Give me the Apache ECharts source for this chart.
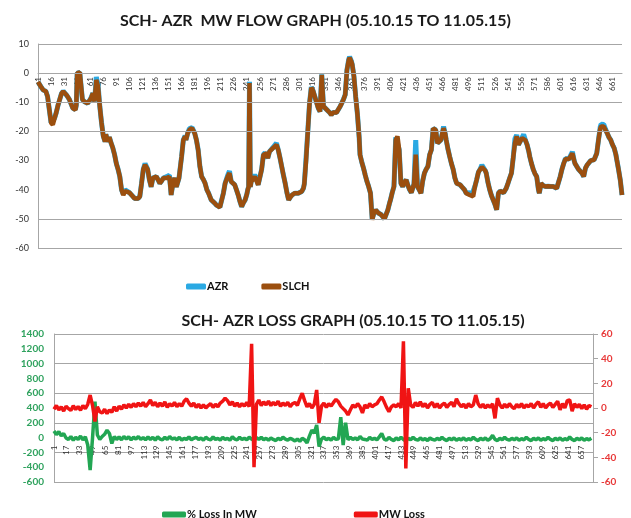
<!DOCTYPE html>
<html>
<head>
<meta charset="utf-8">
<script src="https://cdn.jsdelivr.net/npm/echarts@6/dist/echarts.min.js"></script>
<style>html,body{margin:0;padding:0;background:#fff}#c{width:631px;height:518px}</style>
</head>
<body>
<div id="c"></div>
<script>
// ---- Data ----
const categories = [];
for (let n = 1; n <= 672; n++) categories.push(String(n));

const flowTitle = 'SCH- AZR  MW FLOW GRAPH (05.10.15 TO 11.05.15)';
const lossTitle = 'SCH- AZR LOSS GRAPH (05.10.15 TO 11.05.15)';

const flowGridValues = [10, 0, -10, -20, -50, -60];

// [category index, MW]
const slch = [[0,-3],[3,-4.5],[6,-5.8],[9,-6.2],[11,-8],[13,-12.5],[15,-17],[17,-17.7],[19,-15.5],[21,-13.5],[23,-11],[25,-9],[27,-7],[29,-6.3],[31,-6.8],[33,-7.6],[36,-9],[38,-10.5],[40,-12],[43,-12.6],[44,-11],[45,0],[48,0.2],[50,0],[51,-9],[53,-9.7],[55,-10],[57,-10.3],[59,-9.5],[61,-8.6],[63,-6.9],[65,-9.7],[67,-2.3],[69,-4.6],[71,-11.4],[73,-17],[75,-21.7],[77,-23.5],[78,-21],[80,-23.5],[82,-22],[84,-24],[86,-25.7],[88,-28],[90,-31],[92,-33],[94,-35.5],[96,-40],[98,-41.8],[100,-40.5],[102,-40],[105,-41],[107,-41.5],[109,-42.3],[111,-43],[113,-43.5],[115,-43],[117,-42.3],[119,-37.8],[121,-33],[123,-31.5],[125,-31],[126,-33],[128,-36.6],[130,-39],[132,-36],[134,-36.5],[136,-35.5],[138,-36.6],[140,-37.8],[142,-37],[144,-36],[146,-36.5],[148,-36],[151,-35.5],[153,-41.8],[155,-37.8],[157,-36],[159,-39],[162,-36],[165,-28.6],[167,-22.9],[169,-21.7],[170,-22.9],[172,-20.6],[174,-19.5],[177,-18.9],[180,-20.6],[182,-22.9],[184,-26.3],[186,-32],[188,-35.5],[190,-36.5],[192,-37.8],[194,-40],[196,-41.2],[199,-43.5],[201,-44],[203,-44.6],[205,-45.3],[207,-45.8],[209,-46],[211,-45.8],[213,-41.2],[215,-37.8],[216,-38.3],[218,-35.5],[220,-34.3],[222,-37.2],[224,-37.5],[226,-38.3],[228,-40],[230,-41.8],[232,-44],[234,-45.8],[236,-44.5],[238,-43.5],[240,-41.5],[241,-40],[242,-39],[243,-3.4],[244,-39],[245,-37.2],[247,-36.5],[249,-35.5],[251,-36],[253,-38.3],[255,-38],[257,-33],[259,-28],[261,-27.5],[263,-27.5],[264,-29.2],[266,-26.9],[268,-26.5],[270,-25.7],[272,-25.5],[274,-24.6],[276,-26.3],[278,-29],[280,-32],[282,-35],[284,-37.8],[286,-41],[288,-43.5],[290,-42.5],[292,-41.8],[295,-41.2],[297,-41.5],[299,-41.2],[301,-41],[303,-40.6],[305,-39.5],[306,-38],[308,-30],[310,-20],[312,-10.3],[314,-5],[316,-6],[318,-8],[320,-10],[322,-12],[324,-13.2],[326,-0.6],[328,-11.4],[330,-12],[332,-12.6],[335,-13.5],[337,-14.3],[339,-13.5],[341,-13.2],[343,-13.5],[345,-13],[347,-11.5],[349,-10.3],[351,-9],[353,-7.4],[355,1.1],[357,4.5],[358,5.3],[360,4],[361,3],[363,-1.1],[365,-8],[367,-14],[369,-22],[370,-28],[372,-30.5],[374,-32.6],[376,-35],[378,-37.2],[380,-39],[382,-41.2],[384,-50.3],[386,-48],[388,-47],[389,-46.9],[391,-48],[392,-48],[394,-48.5],[396,-49.2],[398,-50],[400,-50.3],[402,-46.9],[404,-44.5],[405,-43.5],[407,-41],[409,-38.9],[411,-22.9],[413,-21.7],[415,-26.3],[417,-37.8],[419,-38.9],[421,-37.5],[423,-36.6],[425,-38.5],[427,-40],[429,-41],[431,-41.2],[432,-38],[434,-28],[435,-33],[436,-38.9],[438,-40],[440,-41.2],[442,-37],[444,-34.3],[446,-33],[448,-32],[450,-28],[452,-26.3],[454,-19],[455,-18.9],[457,-19.5],[459,-24],[461,-23.5],[463,-22.9],[465,-20],[466,-18.9],[468,-21],[469,-22.9],[471,-26],[473,-28.6],[475,-31],[477,-33],[479,-36],[481,-37.8],[483,-38],[485,-38.3],[487,-39],[488,-39.5],[490,-40],[492,-41.2],[494,-41.5],[496,-41.8],[498,-42],[500,-42.3],[502,-38.9],[504,-36.6],[506,-34],[508,-33],[510,-32.2],[512,-32],[514,-33.5],[515,-34.3],[517,-37.5],[519,-40],[521,-42],[523,-43.5],[525,-45],[527,-46.9],[529,-41.2],[531,-40.5],[533,-40.6],[535,-41],[536,-41.2],[538,-39.5],[540,-37.8],[542,-36],[544,-34.3],[546,-29],[548,-24],[550,-21.7],[552,-24.6],[554,-24],[556,-22.3],[558,-21.7],[560,-23],[562,-24.6],[564,-27],[565,-28.6],[567,-31],[569,-33],[571,-34.5],[573,-35.5],[575,-40],[576,-41.2],[578,-37.8],[580,-38.5],[583,-38.9],[586,-38.8],[589,-38.9],[592,-38.9],[594,-38.9],[596,-39.5],[598,-37.5],[600,-35.5],[602,-33],[604,-31],[606,-29.5],[608,-29.2],[610,-29.5],[612,-29.7],[614,-27.5],[616,-30],[617,-31],[619,-32],[621,-33],[623,-33.5],[625,-34.3],[627,-35.5],[629,-32.6],[631,-31.5],[633,-31],[635,-30],[637,-29.7],[639,-29.7],[641,-29.5],[642,-27.5],[644,-22.9],[646,-19],[647,-18.3],[650,-18.3],[652,-19.5],[654,-20.6],[656,-22],[658,-22.9],[660,-24.5],[662,-25.7],[664,-28],[665,-29.7],[667,-33],[669,-36.6],[671,-41.8]];

const azr = [[0,-3],[3,-4.5],[6,-5.8],[9,-6.2],[11,-8],[13,-12.5],[15,-17],[17,-17.5],[19,-15.5],[21,-13.5],[23,-11],[25,-9],[27,-7],[29,-6.2],[31,-6.8],[33,-7.6],[36,-9],[38,-10.5],[40,-12],[43,-12.5],[44,-11],[45,0],[48,0.2],[50,0],[51,-9],[53,-9.7],[55,-10],[57,-10.3],[59,-9.5],[61,-8.4],[63,-6.9],[65,-9.7],[67,-1.3],[69,-4],[71,-11.4],[73,-17],[75,-21.5],[77,-23.5],[78,-21],[80,-23.5],[82,-22],[84,-24],[86,-25.7],[88,-28],[90,-31],[92,-33],[94,-35.5],[96,-40],[98,-41.5],[100,-40],[102,-39.8],[105,-41],[107,-41.5],[109,-42.3],[111,-43],[113,-43.5],[115,-43],[117,-42.3],[119,-37.8],[121,-33],[123,-31],[125,-30.5],[126,-33],[128,-36.6],[130,-39],[132,-36],[134,-36.5],[136,-35.5],[138,-36.6],[140,-37.8],[142,-37],[144,-36],[146,-36.5],[148,-35.5],[151,-35],[153,-41.8],[155,-37.8],[157,-36],[159,-39],[162,-36],[165,-28.6],[167,-22.9],[169,-21.5],[170,-22.9],[172,-20.6],[174,-19],[177,-18.7],[180,-20.6],[182,-22.9],[184,-26.3],[186,-32],[188,-35.5],[190,-36.5],[192,-37.8],[194,-40],[196,-41.2],[199,-43.5],[201,-44],[203,-44.6],[205,-45.3],[207,-45.8],[209,-46],[211,-45.8],[213,-41.2],[215,-37.8],[216,-38.3],[218,-35],[220,-33.6],[222,-37.2],[224,-37.5],[226,-38.3],[228,-40],[230,-41.8],[232,-44],[234,-45.8],[236,-44.5],[238,-43.5],[240,-41.5],[241,-40],[242,-39],[243,-3],[244,-39],[245,-37],[247,-36.5],[249,-35],[251,-36],[253,-38.3],[255,-38],[257,-33],[259,-28],[261,-27.3],[263,-27.5],[264,-29.2],[266,-26.9],[268,-26.5],[270,-25.5],[272,-25.3],[274,-24],[276,-26.3],[278,-29],[280,-32],[282,-35],[284,-37.8],[286,-41],[288,-43.5],[290,-42.5],[292,-41.8],[295,-41.2],[297,-41.5],[299,-41.2],[301,-41],[303,-40.6],[305,-39.5],[306,-38],[308,-29],[310,-20],[312,-10.3],[314,-4.8],[316,-6],[318,-8],[320,-10],[322,-12],[324,-13.2],[326,-0.4],[328,-11.4],[330,-12],[332,-12.6],[335,-13.5],[337,-14.3],[339,-13.5],[341,-13.2],[343,-13.5],[345,-13],[347,-11.5],[349,-10.3],[351,-9],[353,-7.4],[355,1.1],[357,4.7],[358,5.6],[360,4.2],[361,3],[363,-1.1],[365,-8],[367,-14],[369,-22],[370,-28],[372,-30.5],[374,-32.6],[376,-35],[378,-37.2],[380,-39],[382,-41.2],[384,-50],[386,-48],[388,-47],[389,-46.9],[391,-48],[392,-48],[394,-48.5],[396,-49.2],[398,-50],[400,-50],[402,-46.9],[404,-44.5],[405,-43.5],[407,-41],[409,-38.9],[411,-22],[413,-21.5],[415,-26.3],[417,-37.8],[419,-38.9],[421,-37.5],[423,-36.6],[425,-38.5],[427,-40],[429,-41],[431,-41.2],[432,-38],[434,-23],[435,-30],[436,-38.9],[438,-40],[440,-41.2],[442,-37],[444,-34.3],[446,-33],[448,-32],[450,-28],[452,-26.3],[454,-19],[455,-18.5],[457,-19.5],[459,-24],[461,-23.5],[463,-22.9],[465,-20],[466,-18.3],[468,-21],[469,-22.9],[471,-26],[473,-28.6],[475,-31],[477,-33],[479,-36],[481,-37.8],[483,-38],[485,-38.3],[487,-39],[488,-39.5],[490,-40],[492,-41.2],[494,-41.5],[496,-41],[498,-42],[500,-42.3],[502,-38.9],[504,-36.6],[506,-34],[508,-33],[510,-31.5],[512,-32],[514,-33.5],[515,-34.3],[517,-37.5],[519,-40],[521,-42],[523,-43.5],[525,-45],[527,-46.9],[529,-41.2],[531,-40.5],[533,-40.6],[535,-41],[536,-41.2],[538,-39.5],[540,-37.8],[542,-36],[544,-34.3],[546,-29],[548,-22.5],[550,-21.2],[552,-24.6],[554,-24],[556,-22.3],[558,-21],[560,-23],[562,-24.6],[564,-27],[565,-28.6],[567,-31],[569,-33],[571,-34.5],[573,-35.5],[575,-40],[576,-41.2],[578,-37.8],[580,-38.5],[583,-38.9],[586,-38.8],[589,-38.9],[592,-38.9],[594,-38.9],[596,-39.5],[598,-37.5],[600,-35.5],[602,-33],[604,-31],[606,-29.3],[608,-29],[610,-29.5],[612,-29.7],[614,-27],[616,-30],[617,-31],[619,-32],[621,-33],[623,-33.5],[625,-34.3],[627,-35.5],[629,-32.6],[631,-31.5],[633,-31],[635,-30],[637,-29.7],[639,-29.7],[641,-29.5],[642,-27.5],[644,-22.9],[646,-18.5],[647,-17.5],[650,-17.6],[652,-19.2],[654,-20.6],[656,-22],[658,-22.9],[660,-24.5],[662,-25.7],[664,-28],[665,-29.7],[667,-33],[669,-36.6],[671,-41.8]];

// Loss graph: values read every 3rd category (1, 4, 7, ...)
const lossStep = 3;
const mwLoss = [
 -1,2,-1.5,1,-2.5,1.5,-0.5,-2,1.8,-1.2,
 1.2,-1.8,2,-0.5,3,10.5,2,-11,1,-3,
 -4,-1,-4.5,-1.5,-3.5,1,-2.5,1.5,-1,2.5,
 0,3,0.5,3.5,1,4,1.5,4.5,1,3.5,
 6.5,2,4.5,1,4,1.5,5,0.5,3.5,1.5,
 4.5,1,3.5,1.5,5.5,7.5,4,1.5,4,0.5,
 3,0,2.5,0,2,3.5,0.5,3,1,4,
 5.5,8,6,2.5,5,1.5,4,1,3.5,1.5,
 4.5,1,52,-48,3,6.5,2,5,2.5,5.5,
 2,4.5,2.5,5.5,1.5,4,2,4.5,1,3.5,
 4.5,2,7.5,12,6,1,3.5,0,3,14.6,
 -12,1.5,4,0.5,3.5,1.5,4.5,7,5,1.5,
 -0.5,-2.5,-5.6,-1.5,2.5,0.5,3.5,1,-4,2.5,
 0,3.5,1,2.5,3.5,6.5,9,5,0.5,-3,
 1,2.5,1,3.5,0,54,-49,16,2.5,0.5,
 4.5,1.5,5,1,3.5,0,3,4.5,0.5,3.5,
 0,2.5,4,0.5,3,4.5,1,7.5,3.5,1,
 3,0,3.5,1,2.5,10.5,3.5,0.5,3,0,
 2.5,0.5,3.5,-8.4,8,2.5,0,3,0.5,3.5,
 1,-0.5,3,0.5,3.5,0,2.5,1,3.5,0,
 3,5,0.5,3.5,0,2.5,4,0.5,3,5.5,
 -1.5,3.5,0,6,6.5,-2.5,3.5,0.5,3,-0.5,
 2.5,-1,2,1
];
const pctLoss = [
 90,40,80,25,55,-5,-25,15,-35,5,
 -25,20,-30,10,-100,-440,0,485,35,-25,
 15,45,100,55,-80,15,-25,10,-30,15,
 -20,10,-30,5,-20,15,-25,0,-30,10,
 -25,5,-35,10,-20,-30,5,-25,15,-20,
 -5,-30,5,-35,-10,-25,10,-30,-10,5,
 -25,-5,-35,5,-20,-30,10,-25,-10,-35,
 5,-25,-10,-35,10,-20,-30,5,-25,-10,
 -30,5,-20,-35,0,-25,5,-30,-10,-35,
 -5,-25,-40,-10,-30,5,-20,-35,-10,-25,
 -45,-20,-50,-10,-30,-70,20,100,60,170,
 -122,-20,5,-30,-10,-35,5,-25,-15,275,
 -100,200,-30,5,-25,-5,-30,15,-20,-25,
 -35,5,-25,-10,-30,10,55,-20,-35,5,
 -25,-40,-5,-30,5,-25,-45,-10,-30,5,
 -25,-35,-5,-30,-15,-40,-5,-25,-35,-10,
 -30,5,-25,-40,-10,-30,-5,-35,-15,-30,
 -5,-35,-15,-30,5,-25,-40,-10,-30,-5,
 -35,-15,30,-25,-40,-10,-30,5,-25,-35,
 -10,-30,-5,-35,-15,-30,5,-25,-40,-10,
 -30,-5,-35,-15,-30,5,-25,-40,-10,-30,
 -5,-35,-15,-30,10,-25,-40,-10,-30,-5,
 -35,-15,-30,-10
];

// ---- Chart ----
const FONT = 'Lato';
const toPairs = arr => arr.map((v, k) => [k * lossStep, v]);
const GRID_COLOR = '#a6a6a6';

const chart = echarts.init(document.getElementById('c'), null, {renderer: 'canvas'});
chart.setOption({
  backgroundColor: '#ffffff',
  animation: false,
  textStyle: {fontFamily: FONT},
  title: [
    {text: flowTitle, left: 'center', top: 8,
     textStyle: {fontFamily: FONT, fontSize: 16, fontWeight: 'bold', color: '#1a1a1a'}},
    {text: lossTitle, left: 348, textAlign: 'center', top: 308,
     textStyle: {fontFamily: FONT, fontSize: 16, fontWeight: 'bold', color: '#1a1a1a'}}
  ],
  legend: [
    {data: ['AZR', 'SLCH'], left: 181, top: 276, icon: 'roundRect',
     itemWidth: 20, itemHeight: 6, itemGap: 33,
     textStyle: {fontFamily: FONT, fontSize: 11, fontWeight: 'bold', color: '#111', padding: [0, 0, 0, -4]}},
    {data: ['% Loss In MW', 'MW Loss'], left: 157, top: 504, icon: 'roundRect',
     itemWidth: 24, itemHeight: 6, itemGap: 97,
     textStyle: {fontFamily: FONT, fontSize: 11, fontWeight: 'bold', color: '#111', padding: [0, 0, 0, -4]}}
  ],
  grid: [
    {left: 38, right: 9, top: 44, bottom: 270},          // flow plot
    {left: 54, right: 38, top: 334, bottom: 36},         // loss plot
    {left: 38, right: 9, top: 44, bottom: 445},          // flow: zero line for category labels
    {left: 54, right: 38, top: 334, bottom: 80.4}        // loss: zero line for category labels
  ],
  xAxis: [
    {type: 'category', gridIndex: 0, data: categories, boundaryGap: false,
     axisLine: {show: false, onZero: false}, axisTick: {show: false}, axisLabel: {show: false}, splitLine: {show: false}},
    {type: 'category', gridIndex: 1, data: categories, boundaryGap: false,
     axisLine: {show: false, onZero: false}, axisTick: {show: false}, axisLabel: {show: false}, splitLine: {show: false}},
    {type: 'category', gridIndex: 2, data: categories, boundaryGap: false,
     axisLine: {show: true, onZero: false, lineStyle: {color: GRID_COLOR, width: 1}},
     axisTick: {show: false},
     axisLabel: {interval: 14, rotate: 90, margin: 4, fontSize: 8, color: '#333', fontFamily: FONT},
     splitLine: {show: false}},
    {type: 'category', gridIndex: 3, data: categories, boundaryGap: false,
     axisLine: {show: false, onZero: false},
     axisTick: {show: false},
     axisLabel: {interval: 15, rotate: 90, margin: 8, fontSize: 8, color: '#333', fontFamily: FONT},
     splitLine: {show: false}}
  ],
  yAxis: [
    {type: 'value', gridIndex: 0, min: -60, max: 10, interval: 10,
     axisLine: {show: true, lineStyle: {color: GRID_COLOR}},
     axisTick: {show: false},
     axisLabel: {fontSize: 9, color: '#333', margin: 9, fontFamily: FONT},
     splitLine: {show: false}},
    {type: 'value', gridIndex: 1, position: 'left', min: -600, max: 1400, interval: 200,
     axisLine: {show: true, lineStyle: {color: GRID_COLOR}},
     axisTick: {show: false},
     axisLabel: {fontSize: 10, fontWeight: 'bold', color: '#2fa25e', margin: 10, fontFamily: FONT,
                 formatter: v => String(v)},
     splitLine: {show: false}},
    {type: 'value', gridIndex: 1, position: 'right', min: -60, max: 60, interval: 20,
     axisLine: {show: true, lineStyle: {color: GRID_COLOR}},
     axisTick: {show: true, length: 5, lineStyle: {color: GRID_COLOR}},
     axisLabel: {fontSize: 10, fontWeight: 'bold', color: '#e83838', margin: 8, fontFamily: FONT},
     splitLine: {show: false}},
    {type: 'value', gridIndex: 1, position: 'left', min: 0, max: 2000, interval: 400,
     axisLine: {show: false}, axisTick: {show: false}, axisLabel: {show: false},
     splitLine: {show: true, lineStyle: {color: GRID_COLOR, width: 1}}},
    {type: 'value', gridIndex: 2, show: false, min: 0, max: 1},
    {type: 'value', gridIndex: 3, show: false, min: 0, max: 1}
  ],
  series: [
    {name: 'flowGrid', type: 'line', xAxisIndex: 0, yAxisIndex: 0, data: [], z: 1,
     markLine: {silent: true, symbol: 'none', label: {show: false},
       lineStyle: {color: GRID_COLOR, type: 'solid', width: 1},
       data: flowGridValues.map(v => ({yAxis: v}))}},
    {name: 'AZR', type: 'line', xAxisIndex: 0, yAxisIndex: 0, data: azr, showSymbol: false,
     color: '#2aa9e3', lineStyle: {width: 5, color: '#2aa9e3'}, z: 2},
    {name: 'SLCH', type: 'line', xAxisIndex: 0, yAxisIndex: 0, data: slch, showSymbol: false,
     color: '#9b4f0f', lineStyle: {width: 4.5, color: '#9b4f0f'}, z: 3},
    {name: '% Loss In MW', type: 'line', xAxisIndex: 1, yAxisIndex: 1, data: toPairs(pctLoss), showSymbol: false,
     color: '#22a653', lineStyle: {width: 3.5, color: '#22a653'}, z: 2},
    {name: 'MW Loss', type: 'line', xAxisIndex: 1, yAxisIndex: 2, data: toPairs(mwLoss), showSymbol: false,
     color: '#f01414', lineStyle: {width: 3.5, color: '#f01414'}, z: 3}
  ]
});
</script>
</body>
</html>
